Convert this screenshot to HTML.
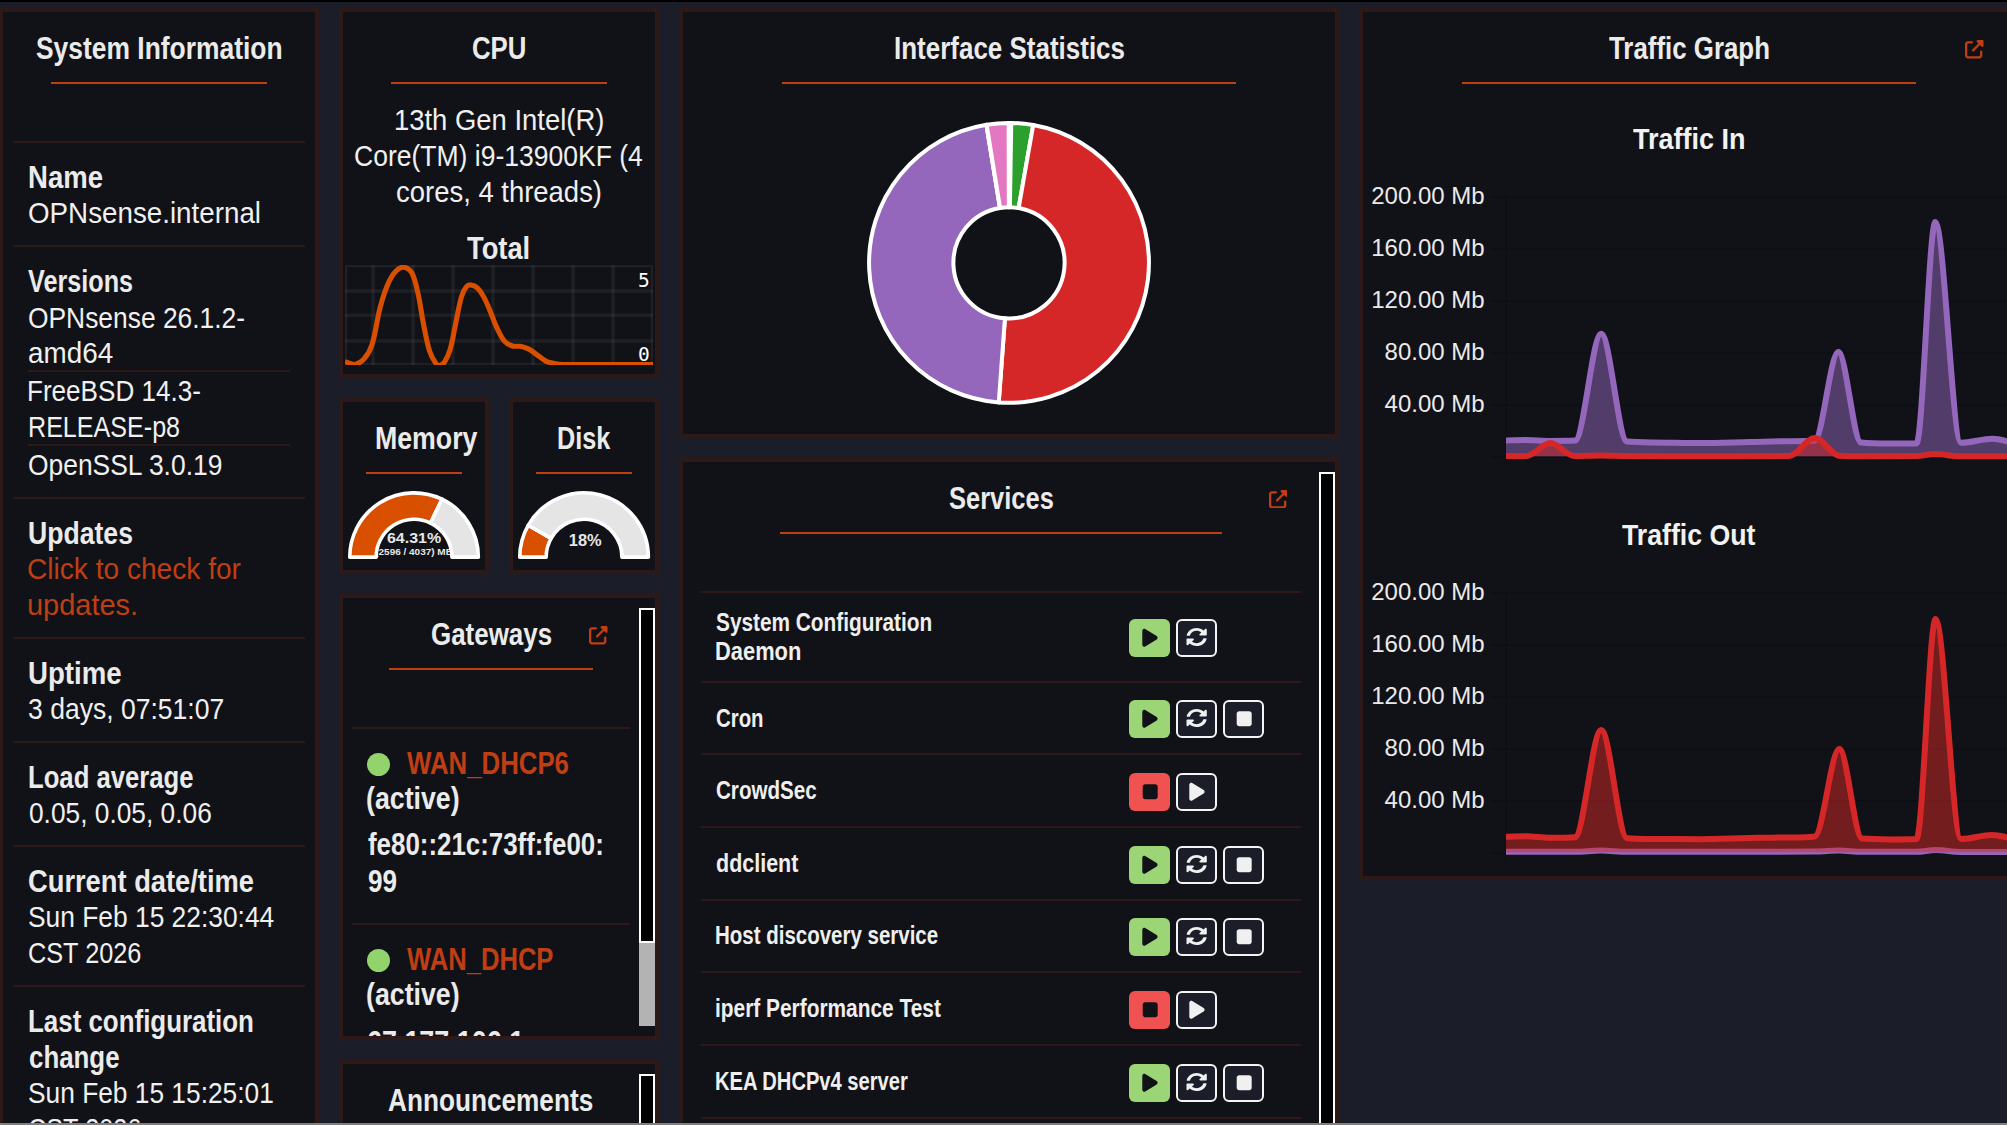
<!DOCTYPE html>
<html lang="en"><head><meta charset="utf-8"><title>Lobby | Dashboard | OPNsense.internal</title>
<style>
html,body{margin:0;padding:0}
body{width:2007px;height:1125px;overflow:hidden;position:relative;background:#1b1d29;color:#f0f0f0;
 font-family:"Liberation Sans",sans-serif;font-size:27.5px;line-height:36px}
.abs{position:absolute}
.panel{position:absolute;box-sizing:border-box;border:4px solid #2d1918;background:#111217;overflow:hidden}
.title{position:absolute;height:36px;line-height:36px;font-size:32px;font-weight:bold;white-space:nowrap;color:#ebebeb;transform-origin:0 50%}
.uline{position:absolute;top:70px;height:2px;background:#c03e14}
.sep{position:absolute;height:1px;background:#2d1918}
.t{position:absolute;white-space:nowrap;height:36px;line-height:36px;transform-origin:0 50%}
.b{font-weight:bold;color:#ebebeb}
.lnk,.b.lnk{color:#c03e14}
.sb{position:absolute;width:16px;box-sizing:border-box;border:2px solid #fff;background:#000}
.thumb{position:absolute;width:16px;background:#b3b3b3}
.svc{position:absolute;white-space:nowrap;font-weight:bold;font-size:26px;line-height:29px;height:29px;color:#efefef;transform-origin:0 50%}
.btn{position:absolute;width:41.3px;height:38.3px;box-sizing:border-box;border-radius:6px}
.btn svg{position:absolute;left:0;top:0}
.g{background:#9cd576}
.r{background:#f05252}
.o{background:#1b1d29;border:2px solid #f4f4f4;border-radius:6px}
.ylab{position:absolute;width:200px;text-align:right;font-size:24px;line-height:28px;height:28px;color:#eaeaea;white-space:nowrap}
.ctitle{position:absolute;font-weight:bold;font-size:30px;line-height:34px;height:34px;white-space:nowrap;color:#f2f2f2;transform-origin:0 50%}
</style></head><body>

<div class="abs" style="left:0;top:0;width:2007px;height:2px;background:#000"></div>
<div class="panel" style="left:-1px;top:8px;width:320px;height:1200px">
<div id="t1" class="title" style="left:33.00px;top:17.90px;transform:scaleX(0.8255)">System Information</div>
<div class="uline" style="left:48.2px;width:215.6px"></div>
<div class="sep" style="left:10px;top:129px;width:292px;height:2px"></div>
<div id="t2" class="t b" style="left:24.50px;top:148.06px;font-size:31px;transform:scaleX(0.8882)">Name</div>
<div id="t3" class="t " style="left:25.40px;top:183.30px;font-size:29px;transform:scaleX(0.9572)">OPNsense.internal</div>
<div class="sep" style="left:10px;top:233px;width:292px;height:2px"></div>
<div id="t4" class="t b" style="left:25.30px;top:252.06px;font-size:31px;transform:scaleX(0.8129)">Versions</div>
<div id="t5" class="t " style="left:25.40px;top:287.50px;font-size:29px;transform:scaleX(0.9099)">OPNsense 26.1.2-</div>
<div id="t6" class="t " style="left:25.40px;top:323.30px;font-size:29px;transform:scaleX(0.9603)">amd64</div>
<div class="sep" style="left:25px;top:358px;width:262px;height:2px"></div>
<div id="t7" class="t " style="left:24.40px;top:361.20px;font-size:29px;transform:scaleX(0.8991)">FreeBSD 14.3-</div>
<div id="t8" class="t " style="left:25.40px;top:397.10px;font-size:29px;transform:scaleX(0.8655)">RELEASE-p8</div>
<div class="sep" style="left:25px;top:432px;width:262px;height:2px"></div>
<div id="t9" class="t " style="left:25.40px;top:434.80px;font-size:29px;transform:scaleX(0.9109)">OpenSSL 3.0.19</div>
<div class="sep" style="left:10px;top:485px;width:292px;height:2px"></div>
<div id="t10" class="t b" style="left:24.50px;top:504.06px;font-size:31px;transform:scaleX(0.8581)">Updates</div>
<div id="t11" class="t lnk" style="left:24.40px;top:539.30px;font-size:29px;transform:scaleX(0.9689)">Click to check for</div>
<div id="t12" class="t lnk" style="left:24.40px;top:575.20px;font-size:29px;transform:scaleX(0.9987)">updates.</div>
<div class="sep" style="left:10px;top:625px;width:292px;height:2px"></div>
<div id="t13" class="t b" style="left:24.50px;top:644.06px;font-size:31px;transform:scaleX(0.8906)">Uptime</div>
<div id="t14" class="t " style="left:25.40px;top:679.30px;font-size:29px;transform:scaleX(0.9151)">3 days, 07:51:07</div>
<div class="sep" style="left:10px;top:729px;width:292px;height:2px"></div>
<div id="t15" class="t b" style="left:24.50px;top:748.06px;font-size:31px;transform:scaleX(0.8284)">Load average</div>
<div id="t16" class="t " style="left:26.40px;top:783.30px;font-size:29px;transform:scaleX(0.9067)">0.05, 0.05, 0.06</div>
<div class="sep" style="left:10px;top:833px;width:292px;height:2px"></div>
<div id="t17" class="t b" style="left:24.50px;top:852.06px;font-size:31px;transform:scaleX(0.8804)">Current date/time</div>
<div id="t18" class="t " style="left:25.40px;top:887.30px;font-size:29px;transform:scaleX(0.9090)">Sun Feb 15 22:30:44</div>
<div id="t19" class="t " style="left:25.40px;top:923.20px;font-size:29px;transform:scaleX(0.8718)">CST 2026</div>
<div class="sep" style="left:10px;top:973px;width:292px;height:2px"></div>
<div id="t20" class="t b" style="left:24.50px;top:992.06px;font-size:31px;transform:scaleX(0.8356)">Last configuration</div>
<div id="t21" class="t b" style="left:25.50px;top:1027.86px;font-size:31px;transform:scaleX(0.8342)">change</div>
<div id="t22" class="t " style="left:25.40px;top:1063.20px;font-size:29px;transform:scaleX(0.9074)">Sun Feb 15 15:25:01</div>
<div id="t23" class="t " style="left:25.40px;top:1099.00px;font-size:29px;transform:scaleX(0.8718)">CST 2026</div>
</div>
<div class="panel" style="left:339px;top:8px;width:320px;height:370px">
<div id="t24" class="title" style="left:129.00px;top:17.90px;transform:scaleX(0.8051)">CPU</div>
<div class="uline" style="left:48.2px;width:215.6px"></div>
<div id="t25" class="t " style="left:51.00px;top:90.20px;font-size:29px;transform:scaleX(0.9457)">13th Gen Intel(R)</div>
<div id="t26" class="t " style="left:11.00px;top:125.90px;font-size:29px;transform:scaleX(0.9145)">Core(TM) i9-13900KF (4</div>
<div id="t27" class="t " style="left:53.00px;top:161.50px;font-size:29px;transform:scaleX(0.9467)">cores, 4 threads)</div>
<div id="t28" class="t b" style="left:124.40px;top:218.83px;font-size:30.8px;transform:scaleX(0.8864)">Total</div>
<svg class="abs" style="left:2px;top:253px" width="308" height="100" viewBox="0 0 308 100"><rect x="26.15" y="0" width="3.7" height="100" fill="rgba(255,255,255,0.055)"/><rect x="66.15" y="0" width="3.7" height="100" fill="rgba(255,255,255,0.055)"/><rect x="106.15" y="0" width="3.7" height="100" fill="rgba(255,255,255,0.055)"/><rect x="146.15" y="0" width="3.7" height="100" fill="rgba(255,255,255,0.055)"/><rect x="186.15" y="0" width="3.7" height="100" fill="rgba(255,255,255,0.055)"/><rect x="226.15" y="0" width="3.7" height="100" fill="rgba(255,255,255,0.055)"/><rect x="266.15" y="0" width="3.7" height="100" fill="rgba(255,255,255,0.055)"/><rect x="0" y="24.2" width="308" height="3.6" fill="rgba(255,255,255,0.055)"/><rect x="0" y="48.5" width="308" height="3.6" fill="rgba(255,255,255,0.055)"/><rect x="0" y="74.2" width="308" height="3.6" fill="rgba(255,255,255,0.055)"/><rect x="1.15" y="1.15" width="305.7" height="97.7" fill="none" stroke="rgba(255,255,255,0.06)" stroke-width="2.3"/><path d="M0.00 96.62 C3.16 97.57 6.58 99.94 9.57 99.49 C12.90 98.99 16.79 96.43 19.13 93.75 C22.58 89.80 25.50 84.52 27.10 79.40 C30.76 67.69 31.93 54.69 35.08 42.73 C37.19 34.70 39.75 26.39 43.05 18.81 C45.01 14.29 47.71 9.50 51.02 6.06 C52.97 4.03 56.50 1.93 58.99 2.23 C61.76 2.56 65.54 5.22 66.96 7.97 C70.28 14.38 71.67 22.61 73.34 29.97 C75.35 38.82 76.34 48.17 78.12 57.08 C80.03 66.59 81.67 76.57 84.50 85.78 C85.88 90.25 88.27 94.84 90.88 98.53 C91.69 99.68 93.63 100.67 94.87 100.45 C96.52 100.14 98.63 98.54 99.65 96.94 C102.05 93.18 103.93 88.57 105.23 84.18 C107.35 76.99 108.44 69.23 110.01 61.86 C112.12 51.97 113.68 41.57 116.39 31.89 C117.36 28.42 119.03 24.68 121.17 22.00 C122.19 20.73 124.38 19.82 125.96 19.93 C128.07 20.08 130.71 21.27 132.33 22.80 C134.92 25.22 136.95 28.69 138.71 31.89 C141.16 36.32 143.10 41.24 145.09 45.92 C147.31 51.13 149.05 56.75 151.47 61.86 C153.78 66.75 156.08 72.18 159.44 76.21 C161.34 78.49 164.58 80.09 167.41 80.99 C169.84 81.77 172.81 80.85 175.38 81.31 C178.08 81.80 180.91 82.64 183.35 83.86 C186.17 85.27 188.72 87.46 191.33 89.29 C194.51 91.51 197.47 94.43 200.89 96.14 C203.78 97.59 207.25 98.24 210.46 98.85 C213.04 99.34 215.79 99.46 218.43 99.49 C234.21 99.67 250.48 99.49 266.26 99.49 C280.10 99.49 294.36 99.49 308.20 99.49" fill="none" stroke="#d94f00" stroke-width="5.1" stroke-linejoin="round"/><text x="304.8" y="22.2" text-anchor="end" font-family="DejaVu Sans Mono, Liberation Mono, monospace" font-size="19.5" fill="#fff">5</text><text x="304.8" y="95.9" text-anchor="end" font-family="DejaVu Sans Mono, Liberation Mono, monospace" font-size="19.5" fill="#fff">0</text></svg>
</div>
<div class="panel" style="left:339px;top:398px;width:150px;height:176px">
<div id="t29" class="title" style="left:32.00px;top:17.90px;transform:scaleX(0.8349)">Memory</div>
<div class="uline" style="left:22.7px;width:96.6px"></div>
<svg class="abs" style="left:0;top:0" width="142" height="168" viewBox="0 0 142 168"><text transform="translate(71.05,140.9) scale(1.11,1)" text-anchor="middle" font-family="Liberation Sans, sans-serif" font-weight="bold" font-size="14.4" fill="#e6e6e6">64.31%</text><text transform="translate(71.05,153) scale(1.11,1)" text-anchor="middle" font-family="Liberation Sans, sans-serif" font-weight="bold" font-size="9" fill="#e6e6e6">(2596 / 4037) MB</text><path d="M6.75 155.15 A64.30 64.30 0 0 1 98.99 97.24 L87.52 121.02 A37.90 37.90 0 0 0 33.15 155.15 Z" fill="#d94f00" stroke="#fff" stroke-width="3.6" stroke-linejoin="round"/><path d="M98.99 97.24 A64.30 64.30 0 0 1 135.35 155.15 L108.95 155.15 A37.90 37.90 0 0 0 87.52 121.02 Z" fill="#e5e5e5" stroke="#fff" stroke-width="3.6" stroke-linejoin="round"/></svg>
</div>
<div class="panel" style="left:509px;top:398px;width:150px;height:176px">
<div id="t30" class="title" style="left:44.00px;top:17.90px;transform:scaleX(0.7895)">Disk</div>
<div class="uline" style="left:22.7px;width:96.6px"></div>
<svg class="abs" style="left:0;top:0" width="142" height="168" viewBox="0 0 142 168"><text transform="translate(72.25,143.7) scale(1.04,1)" text-anchor="middle" font-family="Liberation Sans, sans-serif" font-weight="bold" font-size="15.8" fill="#e6e6e6">18%</text><path d="M6.75 155.15 A64.30 64.30 0 0 1 15.20 123.29 L38.13 136.37 A37.90 37.90 0 0 0 33.15 155.15 Z" fill="#d94f00" stroke="#fff" stroke-width="3.6" stroke-linejoin="round"/><path d="M15.20 123.29 A64.30 64.30 0 0 1 135.35 155.15 L108.95 155.15 A37.90 37.90 0 0 0 38.13 136.37 Z" fill="#e5e5e5" stroke="#fff" stroke-width="3.6" stroke-linejoin="round"/></svg>
</div>
<div class="panel" style="left:339px;top:594px;width:320px;height:446px">
<div id="t31" class="title" style="left:88.00px;top:17.90px;transform:scaleX(0.8106)">Gateways</div>
<div class="uline" style="left:45.8px;width:204.4px"></div>
<svg class="abs" style="left:246px;top:28px" width="18.5" height="18.5" viewBox="0 0 512 512"><path fill="#c03e14" d="M352 0c-12.900 0-24.600 7.800-29.600 19.800s-2.200 25.700 6.900 34.900L370.700 96 201.400 265.400c-12.500 12.500-12.500 32.800 0 45.300s32.800 12.500 45.300 0L416 141.300l41.400 41.400c9.200 9.200 22.900 11.900 34.900 6.900s19.800-16.600 19.800-29.600V32c0-17.700-14.300-32-32-32H352zM80 32C35.800 32 0 67.800 0 112V432c0 44.200 35.800 80 80 80H400c44.200 0 80-35.800 80-80V320c0-17.700-14.300-32-32-32s-32 14.300-32 32V432c0 8.800-7.200 16-16 16H80c-8.800 0-16-7.200-16-16V112c0-8.800 7.200-16 16-16H192c17.700 0 32-14.300 32-32s-14.300-32-32-32H80z"/></svg>
<div class="sb" style="left:296px;top:10px;height:335px"></div>
<div class="thumb" style="left:296px;top:345px;height:83px"></div>
<div class="sep" style="left:9px;top:129px;width:278px;height:2px"></div>
<div class="abs" style="left:23.7px;top:155.1px;width:23px;height:23px;border-radius:50%;background:#92d36b"></div>
<div id="t32" class="t b lnk" style="left:64.00px;top:147.86px;font-size:31px;transform:scaleX(0.8320)">WAN_DHCP6</div>
<div id="t33" class="t b" style="left:23.00px;top:183.46px;font-size:31px;transform:scaleX(0.8622)">(active)</div>
<div id="t34" class="t b" style="left:25.00px;top:228.96px;font-size:31px;transform:scaleX(0.8348)">fe80::21c:73ff:fe00:</div>
<div id="t35" class="t b" style="left:25.00px;top:265.96px;font-size:31px;transform:scaleX(0.8418)">99</div>
<div class="sep" style="left:9px;top:325px;width:278px;height:2px"></div>
<div class="abs" style="left:23.7px;top:351.1px;width:23px;height:23px;border-radius:50%;background:#92d36b"></div>
<div id="t36" class="t b lnk" style="left:64.00px;top:343.86px;font-size:31px;transform:scaleX(0.8254)">WAN_DHCP</div>
<div id="t37" class="t b" style="left:23.00px;top:379.46px;font-size:31px;transform:scaleX(0.8622)">(active)</div>
<div id="t38" class="t b" style="left:23.60px;top:426.86px;font-size:31px;transform:scaleX(0.8680)">67.177.106.1</div>
</div>
<div class="panel" style="left:339px;top:1060px;width:320px;height:200px">
<div id="t39" class="title" style="left:45.00px;top:17.90px;transform:scaleX(0.8187)">Announcements</div>
<div class="uline" style="left:45.8px;width:204.4px"></div>
<div class="sb" style="left:296px;top:10px;height:150px"></div>
</div>
<div class="panel" style="left:679px;top:8px;width:660px;height:430px">
<div id="t40" class="title" style="left:211.00px;top:17.90px;transform:scaleX(0.8118)">Interface Statistics</div>
<div class="uline" style="left:99.2px;width:453.6px"></div>
<svg class="abs" style="left:0;top:0" width="652" height="422" viewBox="0 0 652 422"><path d="M326.00 110.90 A139.95 139.95 0 0 1 327.12 110.90 L326.45 195.25 A55.60 55.60 0 0 0 326.00 195.25 Z" fill="#1f77b4" stroke="#fff" stroke-width="4" stroke-linejoin="round"/><path d="M327.12 110.90 A139.95 139.95 0 0 1 328.25 110.92 L326.89 195.26 A55.60 55.60 0 0 0 326.45 195.25 Z" fill="#ff7f0e" stroke="#fff" stroke-width="4" stroke-linejoin="round"/><path d="M328.25 110.92 A139.95 139.95 0 0 1 350.23 113.01 L335.63 196.09 A55.60 55.60 0 0 0 326.89 195.26 Z" fill="#2ca02c" stroke="#fff" stroke-width="4" stroke-linejoin="round"/><path d="M350.23 113.01 A139.95 139.95 0 0 1 315.75 390.42 L321.93 306.30 A55.60 55.60 0 0 0 335.63 196.09 Z" fill="#d62728" stroke="#fff" stroke-width="4" stroke-linejoin="round"/><path d="M315.75 390.42 A139.95 139.95 0 0 1 303.38 112.74 L317.01 195.98 A55.60 55.60 0 0 0 321.93 306.30 Z" fill="#9467bd" stroke="#fff" stroke-width="4" stroke-linejoin="round"/><path d="M303.38 112.74 A139.95 139.95 0 0 1 303.62 112.70 L317.11 195.97 A55.60 55.60 0 0 0 317.01 195.98 Z" fill="#8c564b" stroke="#fff" stroke-width="4" stroke-linejoin="round"/><path d="M303.62 112.70 A139.95 139.95 0 0 1 325.80 110.90 L325.92 195.25 A55.60 55.60 0 0 0 317.11 195.97 Z" fill="#e377c2" stroke="#fff" stroke-width="4" stroke-linejoin="round"/><path d="M325.80 110.90 A139.95 139.95 0 0 1 326.00 110.90 L326.00 195.25 A55.60 55.60 0 0 0 325.92 195.25 Z" fill="#7f7f7f" stroke="#fff" stroke-width="4" stroke-linejoin="round"/></svg>
</div>
<div class="panel" style="left:679px;top:458px;width:660px;height:800px">
<div id="t41" class="title" style="left:266.00px;top:17.90px;transform:scaleX(0.7963)">Services</div>
<div class="uline" style="left:96.8px;width:442.4px"></div>
<svg class="abs" style="left:585.5px;top:27.5px" width="18.5" height="18.5" viewBox="0 0 512 512"><path fill="#c03e14" d="M352 0c-12.900 0-24.600 7.800-29.600 19.800s-2.200 25.700 6.900 34.900L370.700 96 201.400 265.400c-12.500 12.500-12.500 32.800 0 45.300s32.800 12.500 45.300 0L416 141.300l41.400 41.400c9.200 9.200 22.900 11.900 34.900 6.900s19.800-16.600 19.800-29.600V32c0-17.700-14.300-32-32-32H352zM80 32C35.800 32 0 67.800 0 112V432c0 44.200 35.800 80 80 80H400c44.200 0 80-35.800 80-80V320c0-17.700-14.300-32-32-32s-32 14.300-32 32V432c0 8.800-7.200 16-16 16H80c-8.800 0-16-7.200-16-16V112c0-8.800 7.200-16 16-16H192c17.700 0 32-14.300 32-32s-14.300-32-32-32H80z"/></svg>
<div class="sb" style="left:636px;top:10px;height:800px"></div>
<div class="sep" style="left:18px;top:129px;width:600px;height:2px"></div>
<div id="t42" class="svc" style="left:33.40px;top:146.10px;transform:scaleX(0.8006)">System Configuration</div>
<div id="t43" class="svc" style="left:32.40px;top:175.10px;transform:scaleX(0.8413)">Daemon</div>
<div class="btn g" style="left:445.9px;top:156.85px"><svg width="41.3" height="38.3" viewBox="0 0 41.3 38.3"><g transform="translate(13.300,8.550) scale(0.03984,0.03984)"><path fill="#111217" d="M73 39c-14.800-9.100-33.400-9.400-48.500-.900S0 62.600 0 80V432c0 17.400 9.400 33.400 24.500 41.900s33.700 8.100 48.500-.900L361 297c14.300-8.700 23-24.200 23-41s-8.700-32.200-23-41L73 39z"/></g></svg></div>
<div class="btn o" style="left:492.9px;top:156.85px"><svg width="41.3" height="38.3" viewBox="0 0 41.3 38.3"><g transform="translate(8.173,6.606) scale(0.04093,0.03669)"><path fill="#f0f0f0" d="M370.720 133.280C339.458 104.008 298.888 87.962 255.848 88c-77.458.068-144.328 53.178-162.791 126.850-1.344 5.363-6.122 9.150-11.651 9.150H24.103c-7.498 0-13.194-6.807-11.807-14.176C33.933 94.924 134.813 8 256 8c66.448 0 126.791 26.136 171.315 68.685L463.030 40.970C478.149 25.851 504 36.559 504 57.941V192c0 13.255-10.745 24-24 24H345.941c-21.382 0-32.090-25.851-16.971-40.971l41.750-41.749zM32 296h134.059c21.382 0 32.090 25.851 16.971 40.971l-41.750 41.750c31.262 29.273 71.835 45.319 114.876 45.280 77.418-.070 144.315-53.144 162.787-126.849 1.344-5.363 6.122-9.150 11.651-9.150h57.304c7.498 0 13.194 6.807 11.807 14.176C478.067 417.076 377.187 504 256 504c-66.448 0-126.791-26.136-171.315-68.685L48.970 471.030C33.851 486.149 8 475.441 8 454.059V320c0-13.255 10.745-24 24-24z"/></g></svg></div>
<div class="sep" style="left:18px;top:219px;width:600px;height:2px"></div>
<div id="t44" class="svc" style="left:33.40px;top:242.00px;transform:scaleX(0.7838)">Cron</div>
<div class="btn g" style="left:445.9px;top:237.85px"><svg width="41.3" height="38.3" viewBox="0 0 41.3 38.3"><g transform="translate(13.300,8.550) scale(0.03984,0.03984)"><path fill="#111217" d="M73 39c-14.800-9.100-33.400-9.400-48.500-.900S0 62.600 0 80V432c0 17.400 9.400 33.400 24.500 41.900s33.700 8.100 48.500-.900L361 297c14.300-8.700 23-24.200 23-41s-8.700-32.200-23-41L73 39z"/></g></svg></div>
<div class="btn o" style="left:492.9px;top:237.85px"><svg width="41.3" height="38.3" viewBox="0 0 41.3 38.3"><g transform="translate(8.173,6.606) scale(0.04093,0.03669)"><path fill="#f0f0f0" d="M370.720 133.280C339.458 104.008 298.888 87.962 255.848 88c-77.458.068-144.328 53.178-162.791 126.850-1.344 5.363-6.122 9.150-11.651 9.150H24.103c-7.498 0-13.194-6.807-11.807-14.176C33.933 94.924 134.813 8 256 8c66.448 0 126.791 26.136 171.315 68.685L463.030 40.970C478.149 25.851 504 36.559 504 57.941V192c0 13.255-10.745 24-24 24H345.941c-21.382 0-32.090-25.851-16.971-40.971l41.750-41.749zM32 296h134.059c21.382 0 32.090 25.851 16.971 40.971l-41.750 41.750c31.262 29.273 71.835 45.319 114.876 45.280 77.418-.070 144.315-53.144 162.787-126.849 1.344-5.363 6.122-9.150 11.651-9.150h57.304c7.498 0 13.194 6.807 11.807 14.176C478.067 417.076 377.187 504 256 504c-66.448 0-126.791-26.136-171.315-68.685L48.970 471.030C33.851 486.149 8 475.441 8 454.059V320c0-13.255 10.745-24 24-24z"/></g></svg></div>
<div class="btn o" style="left:539.9px;top:237.85px"><svg width="41.3" height="38.3" viewBox="0 0 41.3 38.3"><g transform="translate(11.700,6.850) scale(0.03906,0.03906)"><path fill="#f0f0f0" d="M0 128C0 92.700 28.700 64 64 64H320c35.300 0 64 28.700 64 64V384c0 35.300-28.700 64-64 64H64c-35.300 0-64-28.700-64-64V128z"/></g></svg></div>
<div class="sep" style="left:18px;top:291px;width:600px;height:2px"></div>
<div id="t45" class="svc" style="left:33.40px;top:314.30px;transform:scaleX(0.7921)">CrowdSec</div>
<div class="btn r" style="left:445.9px;top:310.85px"><svg width="41.3" height="38.3" viewBox="0 0 41.3 38.3"><g transform="translate(13.700,8.850) scale(0.03906,0.03906)"><path fill="#111217" d="M0 128C0 92.700 28.700 64 64 64H320c35.300 0 64 28.700 64 64V384c0 35.300-28.700 64-64 64H64c-35.300 0-64-28.700-64-64V128z"/></g></svg></div>
<div class="btn o" style="left:492.9px;top:310.85px"><svg width="41.3" height="38.3" viewBox="0 0 41.3 38.3"><g transform="translate(11.300,6.550) scale(0.03984,0.03984)"><path fill="#f0f0f0" d="M73 39c-14.800-9.100-33.400-9.400-48.500-.900S0 62.600 0 80V432c0 17.400 9.400 33.400 24.500 41.900s33.700 8.100 48.500-.900L361 297c14.300-8.700 23-24.200 23-41s-8.700-32.200-23-41L73 39z"/></g></svg></div>
<div class="sep" style="left:18px;top:364px;width:600px;height:2px"></div>
<div id="t46" class="svc" style="left:33.40px;top:387.20px;transform:scaleX(0.8266)">ddclient</div>
<div class="btn g" style="left:445.9px;top:383.85px"><svg width="41.3" height="38.3" viewBox="0 0 41.3 38.3"><g transform="translate(13.300,8.550) scale(0.03984,0.03984)"><path fill="#111217" d="M73 39c-14.800-9.100-33.400-9.400-48.500-.900S0 62.600 0 80V432c0 17.400 9.400 33.400 24.500 41.900s33.700 8.100 48.500-.900L361 297c14.300-8.700 23-24.200 23-41s-8.700-32.200-23-41L73 39z"/></g></svg></div>
<div class="btn o" style="left:492.9px;top:383.85px"><svg width="41.3" height="38.3" viewBox="0 0 41.3 38.3"><g transform="translate(8.173,6.606) scale(0.04093,0.03669)"><path fill="#f0f0f0" d="M370.720 133.280C339.458 104.008 298.888 87.962 255.848 88c-77.458.068-144.328 53.178-162.791 126.850-1.344 5.363-6.122 9.150-11.651 9.150H24.103c-7.498 0-13.194-6.807-11.807-14.176C33.933 94.924 134.813 8 256 8c66.448 0 126.791 26.136 171.315 68.685L463.030 40.970C478.149 25.851 504 36.559 504 57.941V192c0 13.255-10.745 24-24 24H345.941c-21.382 0-32.090-25.851-16.971-40.971l41.750-41.749zM32 296h134.059c21.382 0 32.090 25.851 16.971 40.971l-41.750 41.750c31.262 29.273 71.835 45.319 114.876 45.280 77.418-.070 144.315-53.144 162.787-126.849 1.344-5.363 6.122-9.150 11.651-9.150h57.304c7.498 0 13.194 6.807 11.807 14.176C478.067 417.076 377.187 504 256 504c-66.448 0-126.791-26.136-171.315-68.685L48.970 471.030C33.851 486.149 8 475.441 8 454.059V320c0-13.255 10.745-24 24-24z"/></g></svg></div>
<div class="btn o" style="left:539.9px;top:383.85px"><svg width="41.3" height="38.3" viewBox="0 0 41.3 38.3"><g transform="translate(11.700,6.850) scale(0.03906,0.03906)"><path fill="#f0f0f0" d="M0 128C0 92.700 28.700 64 64 64H320c35.300 0 64 28.700 64 64V384c0 35.300-28.700 64-64 64H64c-35.300 0-64-28.700-64-64V128z"/></g></svg></div>
<div class="sep" style="left:18px;top:437px;width:600px;height:2px"></div>
<div id="t47" class="svc" style="left:32.40px;top:459.40px;transform:scaleX(0.7876)">Host discovery service</div>
<div class="btn g" style="left:445.9px;top:455.85px"><svg width="41.3" height="38.3" viewBox="0 0 41.3 38.3"><g transform="translate(13.300,8.550) scale(0.03984,0.03984)"><path fill="#111217" d="M73 39c-14.800-9.100-33.400-9.400-48.500-.900S0 62.600 0 80V432c0 17.400 9.400 33.400 24.500 41.900s33.700 8.100 48.500-.900L361 297c14.300-8.700 23-24.200 23-41s-8.700-32.200-23-41L73 39z"/></g></svg></div>
<div class="btn o" style="left:492.9px;top:455.85px"><svg width="41.3" height="38.3" viewBox="0 0 41.3 38.3"><g transform="translate(8.173,6.606) scale(0.04093,0.03669)"><path fill="#f0f0f0" d="M370.720 133.280C339.458 104.008 298.888 87.962 255.848 88c-77.458.068-144.328 53.178-162.791 126.850-1.344 5.363-6.122 9.150-11.651 9.150H24.103c-7.498 0-13.194-6.807-11.807-14.176C33.933 94.924 134.813 8 256 8c66.448 0 126.791 26.136 171.315 68.685L463.030 40.970C478.149 25.851 504 36.559 504 57.941V192c0 13.255-10.745 24-24 24H345.941c-21.382 0-32.090-25.851-16.971-40.971l41.750-41.749zM32 296h134.059c21.382 0 32.090 25.851 16.971 40.971l-41.750 41.750c31.262 29.273 71.835 45.319 114.876 45.280 77.418-.070 144.315-53.144 162.787-126.849 1.344-5.363 6.122-9.150 11.651-9.150h57.304c7.498 0 13.194 6.807 11.807 14.176C478.067 417.076 377.187 504 256 504c-66.448 0-126.791-26.136-171.315-68.685L48.970 471.030C33.851 486.149 8 475.441 8 454.059V320c0-13.255 10.745-24 24-24z"/></g></svg></div>
<div class="btn o" style="left:539.9px;top:455.85px"><svg width="41.3" height="38.3" viewBox="0 0 41.3 38.3"><g transform="translate(11.700,6.850) scale(0.03906,0.03906)"><path fill="#f0f0f0" d="M0 128C0 92.700 28.700 64 64 64H320c35.300 0 64 28.700 64 64V384c0 35.300-28.700 64-64 64H64c-35.300 0-64-28.700-64-64V128z"/></g></svg></div>
<div class="sep" style="left:18px;top:509px;width:600px;height:2px"></div>
<div id="t48" class="svc" style="left:32.40px;top:532.00px;transform:scaleX(0.8031)">iperf Performance Test</div>
<div class="btn r" style="left:445.9px;top:528.85px"><svg width="41.3" height="38.3" viewBox="0 0 41.3 38.3"><g transform="translate(13.700,8.850) scale(0.03906,0.03906)"><path fill="#111217" d="M0 128C0 92.700 28.700 64 64 64H320c35.300 0 64 28.700 64 64V384c0 35.300-28.700 64-64 64H64c-35.300 0-64-28.700-64-64V128z"/></g></svg></div>
<div class="btn o" style="left:492.9px;top:528.85px"><svg width="41.3" height="38.3" viewBox="0 0 41.3 38.3"><g transform="translate(11.300,6.550) scale(0.03984,0.03984)"><path fill="#f0f0f0" d="M73 39c-14.800-9.100-33.400-9.400-48.500-.900S0 62.600 0 80V432c0 17.400 9.400 33.400 24.500 41.900s33.700 8.100 48.500-.900L361 297c14.300-8.700 23-24.200 23-41s-8.700-32.200-23-41L73 39z"/></g></svg></div>
<div class="sep" style="left:18px;top:582px;width:600px;height:2px"></div>
<div id="t49" class="svc" style="left:32.40px;top:605.20px;transform:scaleX(0.7740)">KEA DHCPv4 server</div>
<div class="btn g" style="left:445.9px;top:601.85px"><svg width="41.3" height="38.3" viewBox="0 0 41.3 38.3"><g transform="translate(13.300,8.550) scale(0.03984,0.03984)"><path fill="#111217" d="M73 39c-14.800-9.100-33.400-9.400-48.500-.900S0 62.600 0 80V432c0 17.400 9.400 33.400 24.500 41.900s33.700 8.100 48.500-.900L361 297c14.300-8.700 23-24.200 23-41s-8.700-32.200-23-41L73 39z"/></g></svg></div>
<div class="btn o" style="left:492.9px;top:601.85px"><svg width="41.3" height="38.3" viewBox="0 0 41.3 38.3"><g transform="translate(8.173,6.606) scale(0.04093,0.03669)"><path fill="#f0f0f0" d="M370.720 133.280C339.458 104.008 298.888 87.962 255.848 88c-77.458.068-144.328 53.178-162.791 126.850-1.344 5.363-6.122 9.150-11.651 9.150H24.103c-7.498 0-13.194-6.807-11.807-14.176C33.933 94.924 134.813 8 256 8c66.448 0 126.791 26.136 171.315 68.685L463.030 40.970C478.149 25.851 504 36.559 504 57.941V192c0 13.255-10.745 24-24 24H345.941c-21.382 0-32.090-25.851-16.971-40.971l41.750-41.749zM32 296h134.059c21.382 0 32.090 25.851 16.971 40.971l-41.750 41.750c31.262 29.273 71.835 45.319 114.876 45.280 77.418-.070 144.315-53.144 162.787-126.849 1.344-5.363 6.122-9.150 11.651-9.150h57.304c7.498 0 13.194 6.807 11.807 14.176C478.067 417.076 377.187 504 256 504c-66.448 0-126.791-26.136-171.315-68.685L48.970 471.030C33.851 486.149 8 475.441 8 454.059V320c0-13.255 10.745-24 24-24z"/></g></svg></div>
<div class="btn o" style="left:539.9px;top:601.85px"><svg width="41.3" height="38.3" viewBox="0 0 41.3 38.3"><g transform="translate(11.700,6.850) scale(0.03906,0.03906)"><path fill="#f0f0f0" d="M0 128C0 92.700 28.700 64 64 64H320c35.300 0 64 28.700 64 64V384c0 35.300-28.700 64-64 64H64c-35.300 0-64-28.700-64-64V128z"/></g></svg></div>
<div class="sep" style="left:18px;top:655px;width:600px;height:2px"></div>
</div>
<div class="panel" style="left:1359px;top:8px;width:660px;height:872px">
<div id="t50" class="title" style="left:246.00px;top:17.90px;transform:scaleX(0.8081)">Traffic Graph</div>
<div class="uline" style="left:99.2px;width:453.6px"></div>
<svg class="abs" style="left:602px;top:28px" width="18.5" height="18.5" viewBox="0 0 512 512"><path fill="#c03e14" d="M352 0c-12.900 0-24.600 7.800-29.600 19.800s-2.200 25.700 6.900 34.900L370.700 96 201.400 265.400c-12.500 12.500-12.500 32.800 0 45.300s32.800 12.500 45.300 0L416 141.300l41.400 41.400c9.200 9.200 22.900 11.900 34.900 6.900s19.800-16.600 19.800-29.600V32c0-17.700-14.300-32-32-32H352zM80 32C35.800 32 0 67.800 0 112V432c0 44.200 35.800 80 80 80H400c44.200 0 80-35.800 80-80V320c0-17.700-14.300-32-32-32s-32 14.300-32 32V432c0 8.800-7.200 16-16 16H80c-8.800 0-16-7.200-16-16V112c0-8.800 7.200-16 16-16H192c17.700 0 32-14.300 32-32s-14.300-32-32-32H80z"/></svg>
<div id="t51" class="ctitle" style="left:270.00px;top:109.60px;transform:scaleX(0.8991)">Traffic In</div>
<div class="ylab" style="left:-78.4px;top:377.8px">40.00 Mb</div>
<div class="ylab" style="left:-78.4px;top:325.8px">80.00 Mb</div>
<div class="ylab" style="left:-78.4px;top:273.8px">120.00 Mb</div>
<div class="ylab" style="left:-78.4px;top:221.8px">160.00 Mb</div>
<div class="ylab" style="left:-78.4px;top:169.8px">200.00 Mb</div>
<div class="abs" style="left:128px;top:444px;width:530px;height:2px;background:rgba(0,0,0,.12)"></div>
<div class="abs" style="left:128px;top:392px;width:530px;height:2px;background:rgba(0,0,0,.12)"></div>
<div class="abs" style="left:128px;top:340px;width:530px;height:2px;background:rgba(0,0,0,.12)"></div>
<div class="abs" style="left:128px;top:288px;width:530px;height:2px;background:rgba(0,0,0,.12)"></div>
<div class="abs" style="left:128px;top:236px;width:530px;height:2px;background:rgba(0,0,0,.12)"></div>
<div class="abs" style="left:128px;top:184px;width:530px;height:2px;background:rgba(0,0,0,.12)"></div>
<div class="abs" style="left:142px;top:184px;width:2px;height:268px;background:rgba(0,0,0,.12)"></div>
<svg class="abs" style="left:143px;top:174px" width="514" height="290" viewBox="0 0 514 290"><path d="M-6.00 254.70 C2.67 254.43 11.33 253.90 20.00 253.90 C28.00 253.90 36.00 254.90 44.00 254.90 C52.33 254.90 60.67 254.90 69.00 254.60 C77.73 254.29 86.47 147.70 95.20 147.70 C103.80 147.70 112.40 254.77 121.00 255.60 C129.33 256.40 137.67 256.39 146.00 256.40 C162.00 256.42 178.00 257.00 194.00 257.00 C210.67 257.00 227.33 256.33 244.00 256.00 C257.33 255.73 270.67 255.21 284.00 255.20 C292.17 255.20 300.33 255.20 308.50 254.80 C316.43 254.41 324.37 166.10 332.30 166.10 C339.87 166.10 347.43 255.82 355.00 256.60 C364.67 257.60 374.33 257.60 384.00 257.60 C392.83 257.60 401.67 257.60 410.50 257.40 C416.77 257.26 423.03 36.10 429.30 36.10 C437.87 36.10 446.43 256.80 455.00 256.80 C465.47 256.80 475.93 252.80 486.40 252.80 C494.27 252.80 502.13 255.93 510.00 257.50 L510.00 270.20 L-6.00 270.20 Z" fill="rgba(148,103,189,0.5)"/><path d="M-6.00 254.70 C2.67 254.43 11.33 253.90 20.00 253.90 C28.00 253.90 36.00 254.90 44.00 254.90 C52.33 254.90 60.67 254.90 69.00 254.60 C77.73 254.29 86.47 147.70 95.20 147.70 C103.80 147.70 112.40 254.77 121.00 255.60 C129.33 256.40 137.67 256.39 146.00 256.40 C162.00 256.42 178.00 257.00 194.00 257.00 C210.67 257.00 227.33 256.33 244.00 256.00 C257.33 255.73 270.67 255.21 284.00 255.20 C292.17 255.20 300.33 255.20 308.50 254.80 C316.43 254.41 324.37 166.10 332.30 166.10 C339.87 166.10 347.43 255.82 355.00 256.60 C364.67 257.60 374.33 257.60 384.00 257.60 C392.83 257.60 401.67 257.60 410.50 257.40 C416.77 257.26 423.03 36.10 429.30 36.10 C437.87 36.10 446.43 256.80 455.00 256.80 C465.47 256.80 475.93 252.80 486.40 252.80 C494.27 252.80 502.13 255.93 510.00 257.50" fill="none" stroke="#9467bd" stroke-width="6" stroke-linejoin="round"/><path d="M-6.00 270.10 C2.80 270.10 11.60 270.10 20.40 270.00 C28.40 269.91 36.40 257.00 44.40 257.00 C52.40 257.00 60.40 270.00 68.40 270.00 C77.27 270.00 86.13 269.50 95.00 269.50 C103.67 269.50 112.33 270.03 121.00 270.10 C145.33 270.30 169.67 270.30 194.00 270.30 C223.67 270.30 253.33 270.30 283.00 270.00 C291.60 269.91 300.20 252.00 308.80 252.00 C316.87 252.00 324.93 269.07 333.00 269.70 C340.67 270.30 348.33 270.30 356.00 270.30 C374.00 270.30 392.00 270.30 410.00 270.10 C416.43 270.03 422.87 268.10 429.30 268.10 C437.53 268.10 445.77 270.30 454.00 270.30 C472.67 270.30 491.33 270.30 510.00 270.30 L510.00 270.20 L-6.00 270.20 Z" fill="rgba(214,39,40,0.5)"/><path d="M-6.00 270.10 C2.80 270.10 11.60 270.10 20.40 270.00 C28.40 269.91 36.40 257.00 44.40 257.00 C52.40 257.00 60.40 270.00 68.40 270.00 C77.27 270.00 86.13 269.50 95.00 269.50 C103.67 269.50 112.33 270.03 121.00 270.10 C145.33 270.30 169.67 270.30 194.00 270.30 C223.67 270.30 253.33 270.30 283.00 270.00 C291.60 269.91 300.20 252.00 308.80 252.00 C316.87 252.00 324.93 269.07 333.00 269.70 C340.67 270.30 348.33 270.30 356.00 270.30 C374.00 270.30 392.00 270.30 410.00 270.10 C416.43 270.03 422.87 268.10 429.30 268.10 C437.53 268.10 445.77 270.30 454.00 270.30 C472.67 270.30 491.33 270.30 510.00 270.30" fill="none" stroke="#d62728" stroke-width="6" stroke-linejoin="round"/></svg>
<div id="t52" class="ctitle" style="left:259.00px;top:505.90px;transform:scaleX(0.8896)">Traffic Out</div>
<div class="ylab" style="left:-78.4px;top:773.8px">40.00 Mb</div>
<div class="ylab" style="left:-78.4px;top:721.8px">80.00 Mb</div>
<div class="ylab" style="left:-78.4px;top:669.8px">120.00 Mb</div>
<div class="ylab" style="left:-78.4px;top:617.8px">160.00 Mb</div>
<div class="ylab" style="left:-78.4px;top:565.8px">200.00 Mb</div>
<div class="abs" style="left:128px;top:840px;width:530px;height:2px;background:rgba(0,0,0,.12)"></div>
<div class="abs" style="left:128px;top:788px;width:530px;height:2px;background:rgba(0,0,0,.12)"></div>
<div class="abs" style="left:128px;top:736px;width:530px;height:2px;background:rgba(0,0,0,.12)"></div>
<div class="abs" style="left:128px;top:684px;width:530px;height:2px;background:rgba(0,0,0,.12)"></div>
<div class="abs" style="left:128px;top:632px;width:530px;height:2px;background:rgba(0,0,0,.12)"></div>
<div class="abs" style="left:128px;top:580px;width:530px;height:2px;background:rgba(0,0,0,.12)"></div>
<div class="abs" style="left:142px;top:580px;width:2px;height:268px;background:rgba(0,0,0,.12)"></div>
<svg class="abs" style="left:143px;top:570px" width="514" height="290" viewBox="0 0 514 290"><path d="M-6.00 269.80 C19.00 269.79 44.00 269.80 69.00 269.70 C77.67 269.67 86.33 268.60 95.00 268.60 C103.67 268.60 112.33 269.70 121.00 269.70 C183.67 269.70 246.33 269.70 309.00 269.60 C317.00 269.59 325.00 268.60 333.00 268.60 C340.67 268.60 348.33 269.80 356.00 269.80 C374.00 269.80 392.00 269.80 410.00 269.80 C416.53 269.80 423.07 268.10 429.60 268.10 C438.07 268.10 446.53 269.90 455.00 269.90 C473.33 269.90 491.67 269.90 510.00 269.90 L510.00 270.20 L-6.00 270.20 Z" fill="rgba(148,103,189,0.5)"/><path d="M-6.00 269.80 C19.00 269.79 44.00 269.80 69.00 269.70 C77.67 269.67 86.33 268.60 95.00 268.60 C103.67 268.60 112.33 269.70 121.00 269.70 C183.67 269.70 246.33 269.70 309.00 269.60 C317.00 269.59 325.00 268.60 333.00 268.60 C340.67 268.60 348.33 269.80 356.00 269.80 C374.00 269.80 392.00 269.80 410.00 269.80 C416.53 269.80 423.07 268.10 429.60 268.10 C438.07 268.10 446.53 269.90 455.00 269.90 C473.33 269.90 491.67 269.90 510.00 269.90" fill="none" stroke="#9467bd" stroke-width="6" stroke-linejoin="round"/><path d="M-6.00 255.00 C2.67 254.73 11.33 254.20 20.00 254.20 C28.00 254.20 36.00 255.80 44.00 255.80 C52.33 255.80 60.67 255.80 69.00 255.20 C77.73 254.57 86.47 148.00 95.20 148.00 C103.80 148.00 112.40 255.37 121.00 256.20 C129.33 257.00 137.67 256.99 146.00 257.00 C162.00 257.01 178.00 257.20 194.00 257.20 C210.67 257.20 227.33 256.32 244.00 256.00 C257.33 255.74 270.67 255.42 284.00 255.40 C292.27 255.38 300.53 255.40 308.80 254.40 C316.97 253.41 325.13 167.00 333.30 167.00 C340.87 167.00 348.43 255.95 356.00 256.60 C365.33 257.40 374.67 257.40 384.00 257.40 C392.83 257.40 401.67 257.40 410.50 257.00 C416.87 256.71 423.23 37.00 429.60 37.00 C438.07 37.00 446.53 257.00 455.00 257.00 C465.33 257.00 475.67 253.00 486.00 253.00 C494.00 253.00 502.00 256.00 510.00 257.50 L510.00 270.20 L-6.00 270.20 Z" fill="rgba(214,39,40,0.5)"/><path d="M-6.00 255.00 C2.67 254.73 11.33 254.20 20.00 254.20 C28.00 254.20 36.00 255.80 44.00 255.80 C52.33 255.80 60.67 255.80 69.00 255.20 C77.73 254.57 86.47 148.00 95.20 148.00 C103.80 148.00 112.40 255.37 121.00 256.20 C129.33 257.00 137.67 256.99 146.00 257.00 C162.00 257.01 178.00 257.20 194.00 257.20 C210.67 257.20 227.33 256.32 244.00 256.00 C257.33 255.74 270.67 255.42 284.00 255.40 C292.27 255.38 300.53 255.40 308.80 254.40 C316.97 253.41 325.13 167.00 333.30 167.00 C340.87 167.00 348.43 255.95 356.00 256.60 C365.33 257.40 374.67 257.40 384.00 257.40 C392.83 257.40 401.67 257.40 410.50 257.00 C416.87 256.71 423.23 37.00 429.60 37.00 C438.07 37.00 446.53 257.00 455.00 257.00 C465.33 257.00 475.67 253.00 486.00 253.00 C494.00 253.00 502.00 256.00 510.00 257.50" fill="none" stroke="#d62728" stroke-width="6" stroke-linejoin="round"/></svg>
</div>
<div class="abs" style="left:0;top:1123px;width:2007px;height:2px;background:#7f7f7f"></div>
</body></html>
